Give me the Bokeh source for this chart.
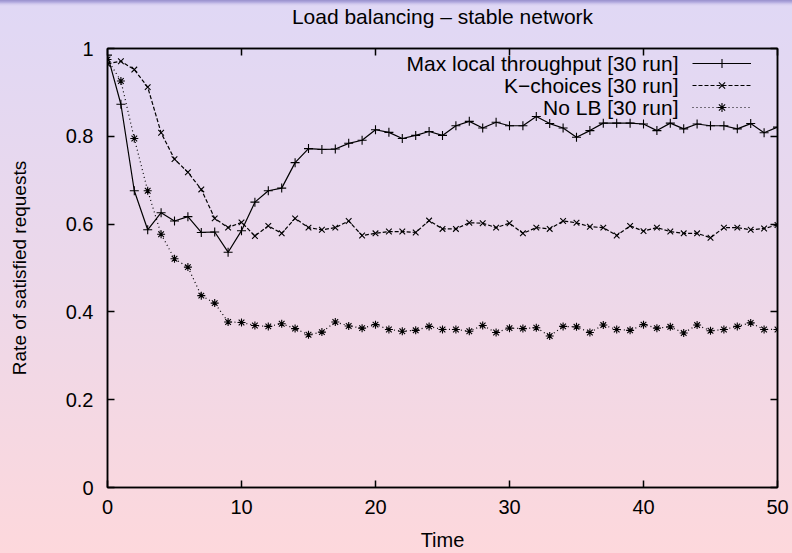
from bokeh.plotting import figure
from bokeh.models import (Range1d, LinearAxis, FixedTicker, Legend, LegendItem,
                          Label, InlineStyleSheet, CustomLabelingPolicy)
from bokeh.embed import file_html
from bokeh.resources import INLINE

# ---------------- data ----------------
time = list(range(51))
max_local = [0.985, 0.873, 0.676, 0.587, 0.626, 0.607, 0.617, 0.581, 0.582, 0.536,
             0.585, 0.650, 0.676, 0.682, 0.740, 0.772, 0.770, 0.771, 0.784, 0.791,
             0.815, 0.809, 0.795, 0.802, 0.811, 0.802, 0.824, 0.834, 0.819, 0.832,
             0.824, 0.824, 0.845, 0.829, 0.819, 0.798, 0.813, 0.830, 0.830, 0.830,
             0.828, 0.813, 0.830, 0.817, 0.828, 0.824, 0.824, 0.817, 0.829, 0.808,
             0.821]
k_choices = [0.965, 0.971, 0.952, 0.912, 0.808, 0.748, 0.718, 0.679, 0.613, 0.592,
             0.604, 0.573, 0.596, 0.579, 0.613, 0.592, 0.587, 0.592, 0.607, 0.574,
             0.579, 0.583, 0.583, 0.581, 0.608, 0.589, 0.589, 0.603, 0.602, 0.592,
             0.602, 0.579, 0.592, 0.589, 0.607, 0.603, 0.594, 0.592, 0.574, 0.596,
             0.584, 0.592, 0.583, 0.579, 0.579, 0.569, 0.592, 0.592, 0.587, 0.590,
             0.598]
no_lb = [0.975, 0.926, 0.795, 0.676, 0.577, 0.521, 0.502, 0.437, 0.420, 0.377,
         0.376, 0.369, 0.367, 0.373, 0.362, 0.348, 0.354, 0.377, 0.368, 0.363,
         0.371, 0.360, 0.356, 0.358, 0.367, 0.360, 0.360, 0.356, 0.369, 0.353,
         0.363, 0.362, 0.364, 0.345, 0.367, 0.366, 0.353, 0.370, 0.360, 0.358,
         0.371, 0.363, 0.366, 0.352, 0.370, 0.357, 0.360, 0.367, 0.375, 0.360,
         0.360]
series_names = ["Max local throughput [30 run]", "K\u2212choices [30 run]", "No LB [30 run]"]
x_ticks = [0, 10, 20, 30, 40, 50]
x_tick_labels = ["0", "10", "20", "30", "40", "50"]
y_ticks = [0, 0.2, 0.4, 0.6, 0.8, 1.0]
y_tick_labels = ["0", "0.2", "0.4", "0.6", "0.8", "1"]
title_text = "Load balancing \u2013 stable network"
x_label = "Time"
y_label = "Rate of satisfied requests"

FONT = "Liberation Sans"

css = """
:host {
  position: absolute !important;
  left: 0px !important;
  top: 0px !important;
  background: linear-gradient(to bottom, #9890cc 0px, #b0a8de 2px, #d2caee 4px,
              #e0d8f5 6px, #ecd8ea 50%, #fdd8dc 100%) !important;
}
"""

p = figure(width=792, height=553, output_backend="svg", toolbar_location=None,
           x_range=Range1d(0, 50), y_range=Range1d(0, 1),
           min_border_left=107, min_border_right=15, min_border_top=48,
           min_border_bottom=63,
           stylesheets=[InlineStyleSheet(css=css)])
p.border_fill_color = None
p.background_fill_color = None
p.outline_line_color = "black"
p.outline_line_width = 1.5
p.xgrid.visible = False
p.ygrid.visible = False
p.title.visible = False

def style_axis(ax, ticks, labels, show_labels):
    ax.ticker = FixedTicker(ticks=ticks)
    ax.major_label_overrides = {t: l for t, l in zip(ticks, labels)}
    ax.major_tick_in = 7
    ax.major_tick_out = 0
    ax.minor_tick_in = 0
    ax.minor_tick_out = 0
    ax.major_tick_line_color = "black"
    ax.major_tick_line_width = 1.5
    ax.axis_line_color = "black"
    ax.axis_line_width = 1.5
    ax.major_label_text_font = FONT
    ax.major_label_text_color = "black"
    ax.axis_label_text_font = FONT
    ax.axis_label_text_font_style = "normal"
    ax.axis_label_text_color = "black"
    if show_labels:
        ax.major_label_text_font_size = "20px"
    else:
        # mirror axis: ticks only, no tick labels drawn
        ax.major_label_text_font_size = "1px"
        ax.major_label_standoff = 0
        ax.major_label_policy = CustomLabelingPolicy(code="return []")

xa = p.xaxis[0]
style_axis(xa, x_ticks, x_tick_labels, True)
xa.major_label_standoff = 12
xa.axis_label = x_label
xa.axis_label_text_font_size = "20px"
xa.axis_label_standoff = 12

ya = p.yaxis[0]
style_axis(ya, y_ticks, y_tick_labels, True)
ya.major_label_standoff = 14
ya.axis_label = y_label
ya.axis_label_text_font_size = "19px"
ya.axis_label_standoff = 33

# top mirror axis carries the chart title as its label (gnuplot-like placement)
top_ax = LinearAxis()
style_axis(top_ax, x_ticks, x_tick_labels, False)
top_ax.axis_label = title_text
top_ax.axis_label_text_font_size = "21px"
top_ax.axis_label_text_line_height = 0.8
top_ax.axis_label_standoff = 17
p.add_layout(top_ax, "above")
right_ax = LinearAxis()
style_axis(right_ax, y_ticks, y_tick_labels, False)
p.add_layout(right_ax, "right")

# ---------------- series ----------------
l1 = p.line(time, max_local, line_color="black", line_width=1.2)
s1 = p.scatter(time, max_local, marker="cross", size=9, line_color="black", line_width=1.1)
l2 = p.line(time, k_choices, line_color="black", line_width=1.2, line_dash="4 2")
s2 = p.scatter(time, k_choices, marker="x", size=8, line_color="black", line_width=1.1)
l3 = p.line(time, no_lb, line_color="black", line_width=1.2, line_dash="1 3")
s3 = p.scatter(time, no_lb, marker="asterisk", size=8, line_color="black", line_width=1.1)

# gnuplot-style key: line samples from a legend, names right-aligned to their left
legend = Legend(items=[LegendItem(label=n, renderers=r) for n, r in
                       zip(series_names, [[l1, s1], [l2, s2], [l3, s3]])],
                location=(585, 369), orientation="vertical", padding=0, margin=0,
                spacing=0, glyph_width=59, glyph_height=22, label_width=0,
                label_height=1, label_standoff=0, label_text_font_size="1px",
                label_text_color=None,
                border_line_color=None, background_fill_alpha=0)
p.add_layout(legend)

for name, yy in zip(series_names, [424, 402, 380]):
    p.add_layout(Label(x=571, y=yy, x_units="screen", y_units="screen", text=name,
                       text_align="right", text_baseline="middle", text_font=FONT,
                       text_font_size="21px", text_color="black"))

open("out.html", "w").write(file_html(p, INLINE))
